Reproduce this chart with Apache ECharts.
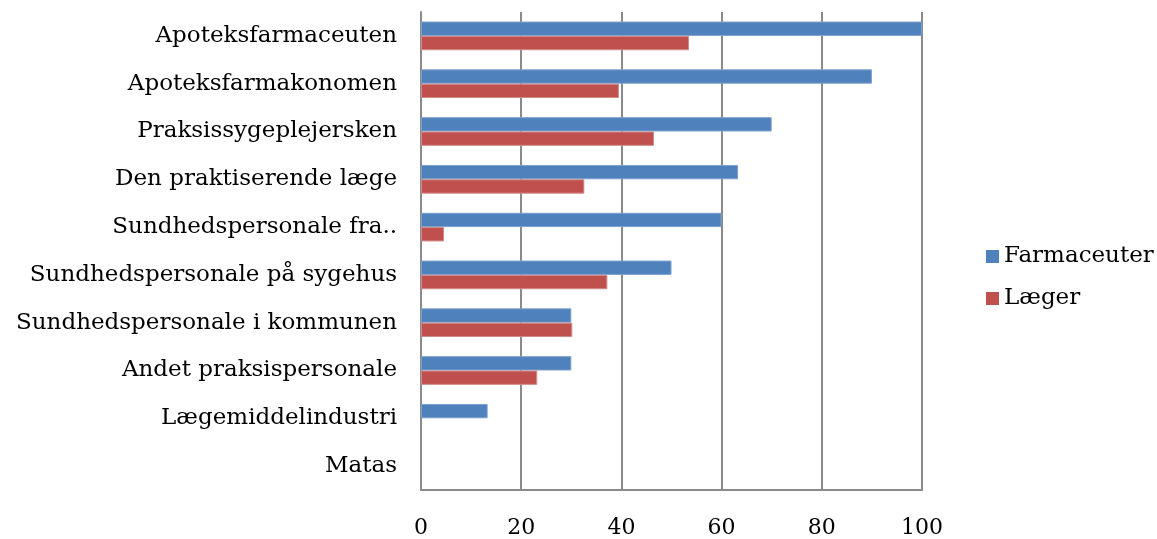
<!DOCTYPE html>
<html>
<head>
<meta charset="utf-8">
<script src="https://cdn.jsdelivr.net/npm/echarts@6/dist/echarts.min.js"></script>
<style>
  html, body { margin: 0; padding: 0; background: #fff; }
  #chart { width: 1157px; height: 539px; }
</style>
</head>
<body>
<div id="chart"></div>
<script>
const categories = [
  "Apoteksfarmaceuten",
  "Apoteksfarmakonomen",
  "Praksissygeplejersken",
  "Den praktiserende læge",
  "Sundhedspersonale fra..",
  "Sundhedspersonale på sygehus",
  "Sundhedspersonale i kommunen",
  "Andet praksispersonale",
  "Lægemiddelindustri",
  "Matas"
];
const farmaceuter = [100, 90, 70, 63.3, 60, 50, 30, 30, 13.3, 0];
const laeger = [53.5, 39.5, 46.5, 32.6, 4.6, 37.2, 30.2, 23.2, 0, 0];
const xTicks = [0, 20, 40, 60, 80, 100];

const font = "DejaVu Serif";
const gray = "#8a8a8a";

// no outline on empty bars
function noZeroBorder (arr) {
  return arr.map(v => v === 0 ? { value: v, itemStyle: { borderWidth: 0 } } : v);
}

let chart = echarts.init(document.getElementById("chart"));
chart.setOption({
  animation: false,
  textStyle: { fontFamily: font, color: "#000" },
  grid: { left: 421, right: 235, top: 12, bottom: 49 },
  legend: {
    orient: "vertical",
    left: 981,
    top: 240,
    icon: "rect",
    itemWidth: 13,
    itemHeight: 13,
    itemGap: 19,
    itemStyle: { borderWidth: 0 },
    textStyle: { fontFamily: font, fontSize: 23, color: "#000" },
    data: ["Farmaceuter", "Læger"]
  },
  xAxis: {
    type: "value",
    min: xTicks[0],
    max: xTicks[xTicks.length - 1],
    interval: 20,
    axisLine: { show: true, lineStyle: { color: gray, width: 2 } },
    axisTick: { show: false },
    splitLine: { show: true, lineStyle: { color: gray, width: 2 } },
    axisLabel: { fontFamily: font, fontSize: 22, color: "#000", margin: 27 }
  },
  yAxis: {
    type: "category",
    inverse: true,
    data: categories,
    axisLine: { show: true, lineStyle: { color: gray, width: 2 } },
    axisTick: { show: false },
    axisLabel: { fontFamily: font, fontSize: 23, color: "#000", margin: 24 }
  },
  series: [
    {
      name: "Farmaceuter",
      type: "bar",
      data: noZeroBorder(farmaceuter),
      barGap: "0%",
      barCategoryGap: "40%",
      itemStyle: { color: "#4f81bd", borderColor: "#7ea0cc", borderWidth: 1 }
    },
    {
      name: "Læger",
      type: "bar",
      data: noZeroBorder(laeger),
      itemStyle: { color: "#c0504d", borderColor: "#d08a88", borderWidth: 1 }
    }
  ]
});
</script>
</body>
</html>
